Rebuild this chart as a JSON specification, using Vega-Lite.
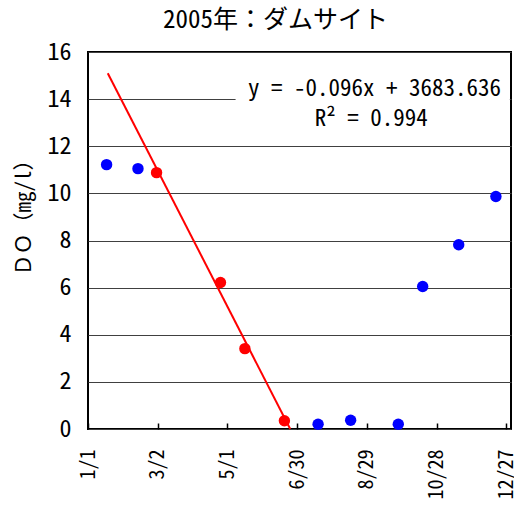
{
  "$schema": "https://vega.github.io/schema/vega-lite/v6.json",
  "width": 423,
  "height": 377,
  "autosize": "none",
  "padding": {"left": 88, "top": 52, "right": 3, "bottom": 79},
  "background": "white",
  "config": {
    "view": {"stroke": "#000000", "strokeWidth": 2},
    "font": "Noto Sans Mono CJK JP, Noto Sans CJK JP",
    "axis": {"labelColor": "#000000", "titleColor": "#000000", "labelFont": "Noto Sans Mono CJK JP, Noto Sans CJK JP", "titleFont": "Noto Sans Mono CJK JP, Noto Sans CJK JP", "domain": false, "labelOverlap": false, "labelFlush": false},
    "axisX": {"labelAngle": -90, "labelFontSize": 20, "labelOverlap": false, "labelFlush": false, "tickSize": -6, "tickColor": "#000000", "tickWidth": 1.5, "labelPadding": 26, "grid": false, "domain": false},
    "axisY": {"grid": true, "gridColor": "#404040", "gridWidth": 1, "tickSize": 0, "domain": false, "labelFontSize": 24, "labelPadding": 17, "labelOverlap": false, "labelFlush": false}
  },
  "title": {
    "text": "2005年：ダムサイト",
    "font": "Noto Sans Mono CJK JP, Noto Sans CJK JP",
    "fontSize": 25,
    "fontWeight": "normal",
    "color": "#000000",
    "anchor": "middle",
    "frame": "group",
    "dx": -24,
    "dy": 36,
    "offset": 18,
    "baseline": "bottom"
  },
  "datasets": {
    "obs": [
      {"date": "2005/01/17", "do": 11.22, "fit": "no"},
      {"date": "2005/02/13", "do": 11.05, "fit": "no"},
      {"date": "2005/03/01", "do": 10.88, "fit": "yes"},
      {"date": "2005/04/25", "do": 6.22, "fit": "yes"},
      {"date": "2005/05/16", "do": 3.41, "fit": "yes"},
      {"date": "2005/06/19", "do": 0.35, "fit": "yes"},
      {"date": "2005/07/18", "do": 0.2, "fit": "no"},
      {"date": "2005/08/15", "do": 0.37, "fit": "no"},
      {"date": "2005/09/25", "do": 0.2, "fit": "no"},
      {"date": "2005/10/16", "do": 6.05, "fit": "no"},
      {"date": "2005/11/16", "do": 7.82, "fit": "no"},
      {"date": "2005/12/18", "do": 9.87, "fit": "no"}
    ],
    "trend": [
      {"date": "2005/01/18", "do": 15.1},
      {"date": "2005/06/24", "do": 0}
    ],
    "note": [
      {"equation": "y = -0.096x + 3683.636", "r2": "R² = 0.994"}
    ]
  },
  "layer": [
    {
      "data": {"name": "note"},
      "mark": {"type": "rect", "fill": "white"},
      "encoding": {
        "x": {"datum": {"year": 2005, "month": 5, "date": 8}, "type": "temporal", "axis": {"labelOverlap": false, "format": "%-m/%-d", "title": null}},
        "x2": {"datum": {"year": 2005, "month": 12, "date": 30}},
        "y": {"datum": 12.4, "type": "quantitative"},
        "y2": {"datum": 14.9}
      }
    },
    {
      "data": {"name": "trend"},
      "mark": {"type": "line", "color": "#FF0000", "strokeWidth": 2},
      "encoding": {
        "x": {"field": "date", "type": "temporal", "axis": {"labelOverlap": false, "format": "%-m/%-d", "title": null}},
        "y": {"field": "do", "type": "quantitative"}
      }
    },
    {
      "data": {"name": "obs"},
      "mark": {"type": "circle", "size": 130, "opacity": 1},
      "encoding": {
        "x": {
          "field": "date",
          "type": "temporal",
          "scale": {"domain": [{"year": 2005, "month": 1, "date": 1}, {"year": 2005, "month": 12, "date": 31}]},
          "axis": {
            "values": [
              {"year": 2005, "month": 1, "date": 1},
              {"year": 2005, "month": 1, "date": 31},
              {"year": 2005, "month": 3, "date": 2},
              {"year": 2005, "month": 4, "date": 1},
              {"year": 2005, "month": 5, "date": 1},
              {"year": 2005, "month": 5, "date": 31},
              {"year": 2005, "month": 6, "date": 30},
              {"year": 2005, "month": 7, "date": 30},
              {"year": 2005, "month": 8, "date": 29},
              {"year": 2005, "month": 9, "date": 28},
              {"year": 2005, "month": 10, "date": 28},
              {"year": 2005, "month": 11, "date": 27},
              {"year": 2005, "month": 12, "date": 27}
            ],
            "format": "%-m/%-d",
            "labelOverlap": false,
            "title": null
          }
        },
        "y": {
          "field": "do",
          "type": "quantitative",
          "scale": {"domain": [0, 16], "nice": false, "zero": true},
          "axis": {
            "values": [0, 2, 4, 6, 8, 10, 12, 14, 16],
            "title": "ＤＯ（mg/l）",
            "titleFontSize": 21,
            "titleFontWeight": "normal",
            "titleX": -64,
            "titleY": 160,
            "titleBaseline": "middle"
          }
        },
        "color": {
          "field": "fit",
          "type": "nominal",
          "scale": {"domain": ["no", "yes"], "range": ["#0000FF", "#FF0000"]},
          "legend": null
        }
      }
    },
    {
      "data": {"name": "note"},
      "mark": {"type": "text", "align": "right", "baseline": "alphabetic", "fontSize": 23, "color": "#000000"},
      "encoding": {
        "x": {"datum": {"year": 2005, "month": 12, "date": 22, "hours": 12}, "type": "temporal", "axis": {"labelOverlap": false, "format": "%-m/%-d", "title": null}},
        "y": {"datum": 14.12, "type": "quantitative"},
        "text": {"field": "equation", "type": "nominal"}
      }
    },
    {
      "data": {"name": "note"},
      "mark": {"type": "text", "align": "center", "baseline": "alphabetic", "fontSize": 23, "color": "#000000"},
      "encoding": {
        "x": {"datum": {"year": 2005, "month": 9, "date": 1, "hours": 18}, "type": "temporal", "axis": {"labelOverlap": false, "format": "%-m/%-d", "title": null}},
        "y": {"datum": 12.84, "type": "quantitative"},
        "text": {"field": "r2", "type": "nominal"}
      }
    }
  ]
}
